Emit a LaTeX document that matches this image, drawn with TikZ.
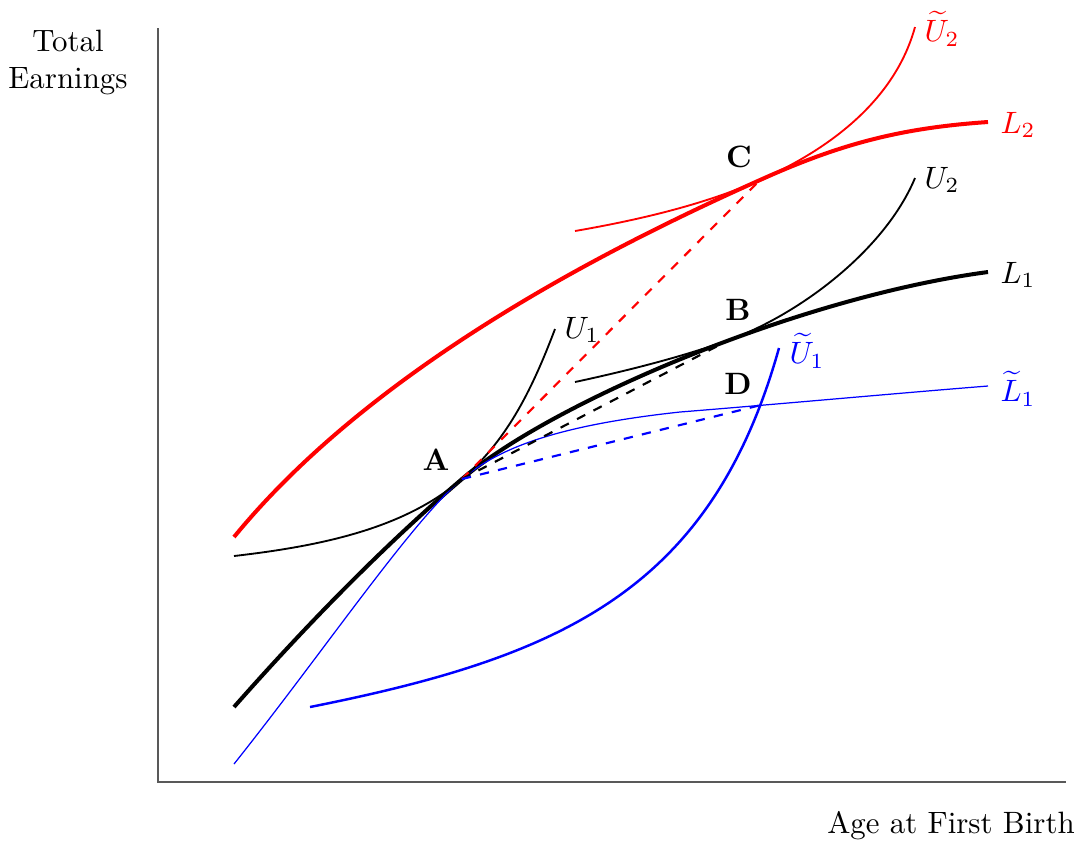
\documentclass[tikz,border=0pt]{standalone}
\usepackage{amsmath,amssymb}
\usepackage{tikz}
\usetikzlibrary{calc,positioning}

\begin{document}
\begin{tikzpicture}[
    x=0.01138cm, y=-0.01138cm,
    axis/.style={gray!70!black, line width=0.5pt},
    budget/.style={line width=1.3pt},
    indiff/.style={line width=0.6pt},
    chord/.style={dashed, line width=0.7pt},
    pointlab/.style={font=\bfseries},
  ]
  \useasboundingbox (0,0) rectangle (1083,845);

  % Axes
  \coordinate (O) at (158,782);
  \coordinate (Ytop) at (158,28);
  \coordinate (Xend) at (1066,782);
  \draw[axis] (Ytop) -- (O) -- (Xend);
  \node[align=center] (ylab) at (68,62) {Total\\Earnings};
  \node (xlab) at (951,826) {Age at First Birth};

  % Tangency points
  \coordinate (A) at (462,479);
  \coordinate (B) at (729,340);
  \coordinate (C) at (760,180);
  \coordinate (D) at (761,405);

  % Budget lines
  \draw[budget, red] (234,537) .. controls (374,366) and (610,247) .. (C)
    .. controls (840,144) and (900,128) .. (988,122);
  \draw[budget] (234,707) .. controls (324,605) and (402,530) .. (A)
    .. controls (552,402) and (800,297) .. (988,272);
  \draw[blue, line width=0.4pt] (234,764) .. controls (324,651) and (412,521) .. (A)
    .. controls (500,447) and (560,425) .. (680,412)
    .. controls (780,404) and (900,393) .. (988,386);

  % Indifference curves
  \draw[indiff] (234,556) .. controls (330,545) and (407,526) .. (A)
    .. controls (505,442) and (530,395) .. (555,329);
  \draw[indiff] (575,382) .. controls (640,368) and (690,354) .. (B)
    .. controls (800,314) and (885,250) .. (915,178);
  \draw[indiff, red] (575,231) .. controls (650,218) and (710,202) .. (C)
    .. controls (830,149) and (895,100) .. (915,27);
  \draw[blue, line width=0.8pt] (310,707) .. controls (561,657) and (711,591) .. (779,348);

  % Chords from A
  \draw[chord, red] (A) -- (C);
  \draw[chord] (A) -- (B);
  \draw[chord, blue] (A) -- (D);

  % Curve labels
  \node[red] (U2tlab) at (942,29) {$\widetilde{U}_2$};
  \node[red] (L2lab) at (1018,125) {$L_2$};
  \node (U2lab) at (942,180) {$U_2$};
  \node (L1lab) at (1018,275) {$L_1$};
  \node (U1lab) at (582,330) {$U_1$};
  \node[blue] (U1tlab) at (807,351) {$\widetilde{U}_1$};
  \node[blue] (L1tlab) at (1018,389) {$\widetilde{L}_1$};

  % Point labels
  \node[pointlab] (Alab) at (436,460) {A};
  \node[pointlab] (Blab) at (738,310) {B};
  \node[pointlab] (Clab) at (739,157) {C};
  \node[pointlab] (Dlab) at (738,384) {D};
\end{tikzpicture}
\end{document}
